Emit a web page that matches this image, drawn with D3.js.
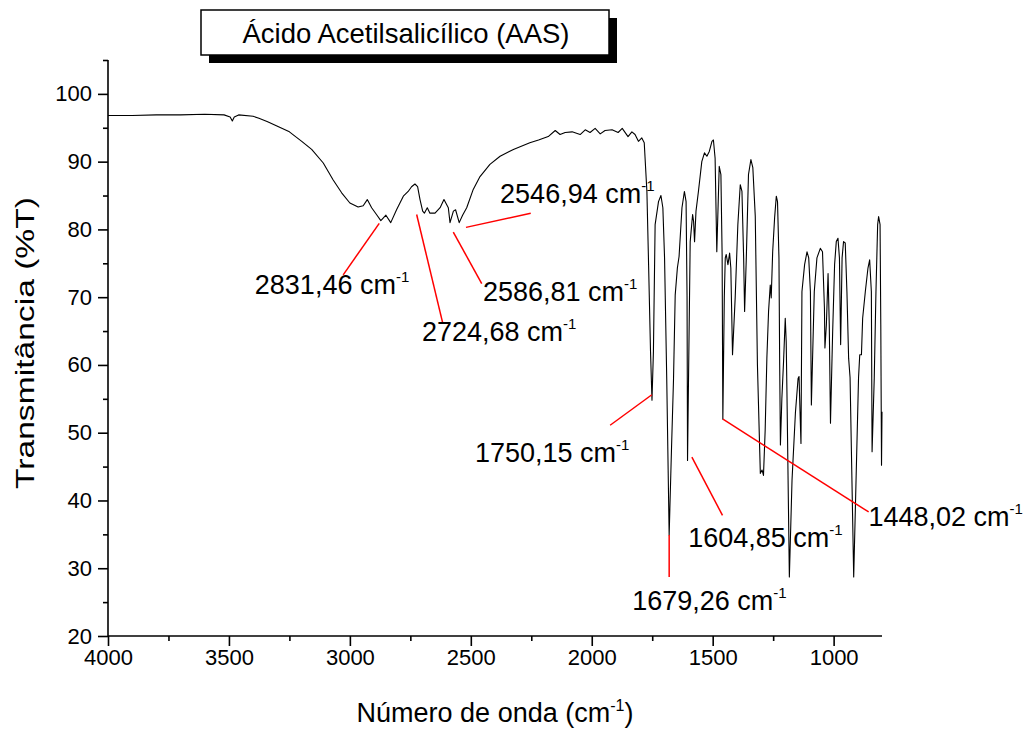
<!DOCTYPE html>
<html>
<head>
<meta charset="utf-8">
<script src="https://cdn.jsdelivr.net/npm/d3@7"></script>
<style>
body { margin: 0; background: #fff; }
text { font-family: Arial, "Liberation Sans", sans-serif; }
</style>
</head>
<body>
<svg id="chart" width="1027" height="729"></svg>
<script>
// IR spectrum of aspirin (cm-1 , %T)
var wavenumber = [4000, 3900, 3800, 3700, 3600, 3520, 3495, 3486, 3478, 3460, 3400, 3376, 3340, 3304, 3250, 3199,
  3158, 3110, 3069, 3034, 3000, 2966, 2945, 2928, 2910, 2890, 2872, 2851, 2831, 2807, 2779, 2759, 2745, 2731, 2720,
  2710, 2699, 2692, 2680, 2669, 2648, 2627, 2611, 2593, 2586, 2572, 2563, 2548, 2534, 2517, 2490, 2462, 2421, 2379,
  2324, 2256, 2220, 2180, 2151, 2131, 2110, 2081, 2048, 2027, 2007, 1986, 1965, 1945, 1916, 1891, 1874, 1850, 1834,
  1821, 1807, 1793, 1783, 1772, 1765, 1757, 1751, 1745, 1738, 1724, 1714, 1706, 1699, 1690, 1680, 1670, 1662, 1655,
  1646, 1639, 1627, 1617, 1610, 1606, 1604, 1593, 1583, 1579, 1575, 1569, 1559, 1545, 1534, 1524, 1514, 1503, 1497,
  1490, 1483, 1473, 1466, 1461, 1458, 1452, 1448, 1444, 1437, 1430, 1425, 1418, 1407, 1396, 1386, 1379, 1372, 1368,
  1361, 1352, 1342, 1334, 1324, 1315, 1303, 1296, 1290, 1283, 1276, 1269, 1262, 1258, 1252, 1244, 1237, 1232, 1226,
  1223, 1220, 1214, 1207, 1200, 1196, 1193, 1183, 1172, 1158, 1147, 1143, 1138, 1135, 1131, 1120, 1110, 1103, 1096,
  1092, 1080, 1069, 1055, 1046, 1038, 1036, 1030, 1023, 1018, 1013, 1004, 996, 989, 982, 976, 971, 965, 959, 952,
  945, 938, 932, 917, 897, 892, 885, 880, 869, 858, 851, 844, 841, 832, 825, 818, 814, 808, 805, 802, 800];
var transmittance = [96.8, 96.8, 96.9, 96.9, 97.0, 96.9, 96.6, 96.0, 96.6, 96.9, 96.7, 96.4, 95.9, 95.3, 94.4, 93.0,
  91.8, 89.8, 87.3, 85.4, 83.9, 83.3, 83.5, 84.4, 83.2, 82.2, 81.3, 82.1, 81.0, 82.9, 84.9, 85.6, 86.3, 86.7, 86.3,
  84.4, 82.7, 82.4, 83.2, 82.4, 82.4, 83.2, 84.4, 83.2, 81.0, 82.7, 82.9, 81.0, 82.1, 83.2, 85.9, 87.8, 89.6, 90.8,
  91.8, 92.8, 93.2, 93.7, 94.6, 94.0, 94.3, 94.4, 94.0, 94.7, 94.3, 94.9, 94.1, 94.6, 94.7, 94.3, 94.9, 93.7, 94.4,
  94.0, 93.0, 93.5, 92.8, 85.6, 74.8, 62.0, 54.8, 62.0, 80.7, 84.1, 85.0, 83.2, 75.8, 58.0, 34.9, 48.0, 57.8, 70.3,
  74.3, 76.0, 83.2, 85.6, 84.1, 70.0, 45.9, 78.2, 82.2, 81.2, 78.2, 82.7, 85.6, 90.0, 91.3, 90.8, 91.5, 93.0, 93.2,
  90.5, 76.7, 89.3, 88.1, 76.3, 52.0, 70.0, 75.8, 76.3, 74.8, 76.5, 74.3, 61.5, 69.9, 80.7, 86.6, 85.6, 75.8, 67.9,
  75.8, 88.1, 90.3, 89.1, 82.0, 60.0, 44.0, 44.5, 43.7, 50.4, 61.0, 67.9, 71.8, 69.9, 76.7, 81.7, 84.9, 84.1, 75.8,
  60.0, 48.2, 55.0, 60.5, 66.9, 63.4, 56.0, 28.7, 43.0, 52.9, 58.0, 58.3, 52.0, 48.4, 70.8, 74.8, 76.7, 75.8, 70.8,
  54.1, 70.8, 75.8, 77.2, 76.7, 68.4, 62.5, 65.9, 73.5, 65.9, 51.4, 64.9, 74.8, 78.2, 78.7, 75.8, 63.0, 75.8, 78.2, 78.0,
  70.8, 61.0, 58.1, 28.7, 58.1, 61.5, 61.5, 66.9, 70.8, 74.3, 75.5, 70.8, 47.2, 58.1, 70.8, 80.7, 81.9, 80.7, 66.0, 45.2, 53.1];

var xTicks = [4000, 3500, 3000, 2500, 2000, 1500, 1000];
var xMinor = [3750, 3250, 2750, 2250, 1750, 1250];
var yTicks = [20, 30, 40, 50, 60, 70, 80, 90, 100];
var yMinor = [25, 35, 45, 55, 65, 75, 85, 95, 105];

// peak annotations: label, red line (from, to) and label anchor, all in data units
var peakLabels = ["2831,46", "2724,68", "2586,81", "2546,94", "1750,15", "1679,26", "1604,85", "1448,02"];
var peakLineFrom = [[2878.6, 80.9], [2723.9, 82.2], [2572.4, 79.6], [2519.9, 80.3], [1924, 51.1], [1679.9, 34.9], [1586, 46.4], [1457.7, 52.0]];
var peakLineTo = [[3027.6, 73.3], [2616.3, 66.2], [2454.9, 72.0], [2252.2, 82.4], [1751.5, 55.6], [1679.9, 28.7], [1459.4, 37.8], [855.2, 38.3]];
var peakLabelAt = [[3393, 71.8], [2702, 65.0], [2450, 70.8], [2379, 85.3], [2483, 47.0], [1833, 25.3], [1601, 34.6], [856, 37.7]];

var svg = d3.select("#chart");
var margin = {left: 108, right: 145, top: 60, bottom: 93};
var width = 1027, height = 729;

var x = d3.scaleLinear().domain([4000, 800]).range([margin.left, width - margin.right]);
var y = d3.scaleLinear().domain([20, 105]).range([height - margin.bottom, margin.top]);

// title box with drop shadow
var title = svg.append("g");
title.append("rect").attr("x", 209).attr("y", 18).attr("width", 408).attr("height", 45).attr("fill", "#000");
title.append("rect").attr("x", 201).attr("y", 10).attr("width", 408).attr("height", 45)
  .attr("fill", "#fff").attr("stroke", "#000").attr("stroke-width", 1.5);
title.append("text").attr("x", 406).attr("y", 33).attr("dy", "0.35em").attr("text-anchor", "middle")
  .attr("font-size", 27.5).text("Ácido Acetilsalicílico (AAS)");

// axes
svg.append("g").attr("transform", "translate(0," + y(20) + ")")
  .call(d3.axisBottom(x).tickValues(xTicks).tickSize(10).tickPadding(3).tickFormat(d3.format("d")));
svg.append("g").attr("transform", "translate(0," + y(20) + ")")
  .call(d3.axisBottom(x).tickValues(xMinor).tickSize(5).tickFormat(""));
svg.append("g").attr("transform", "translate(" + x(4000) + ",0)")
  .call(d3.axisLeft(y).tickValues(yTicks).tickSize(10).tickPadding(6));
svg.append("g").attr("transform", "translate(" + x(4000) + ",0)")
  .call(d3.axisLeft(y).tickValues(yMinor).tickSize(5).tickFormat(""));

svg.selectAll(".tick line").attr("stroke-width", 1.6);
svg.selectAll(".tick text").attr("font-size", 22).attr("font-family", "Arial, 'Liberation Sans', sans-serif").attr("fill", "#000");
// plain axis lines (no end caps)
svg.selectAll(".domain").remove();
svg.append("line").attr("x1", x(4000)).attr("x2", x(800)).attr("y1", y(20)).attr("y2", y(20))
  .attr("stroke", "#000").attr("stroke-width", 1.6);
svg.append("line").attr("x1", x(4000)).attr("x2", x(4000)).attr("y1", y(20)).attr("y2", y(105))
  .attr("stroke", "#000").attr("stroke-width", 1.6);

// axis titles
var xt = svg.append("text").attr("x", 495).attr("y", 713).attr("dy", "0.35em").attr("text-anchor", "middle")
  .attr("font-size", 27);
xt.append("tspan").text("Número de onda (cm");
xt.append("tspan").attr("font-size", 16).attr("dy", -11).text("-1");
xt.append("tspan").attr("dy", 11).text(")");

svg.append("text").attr("transform", "translate(25,343) rotate(-90)").attr("dy", "0.35em")
  .attr("text-anchor", "middle").attr("font-size", 26)
  .attr("textLength", 292).attr("lengthAdjust", "spacingAndGlyphs").text("Transmitância (%T)");

// spectrum
var spectrum = wavenumber.map(function(w, i) { return [w, transmittance[i]]; });
var line = d3.line().x(function(d) { return x(d[0]); }).y(function(d) { return y(d[1]); });
svg.append("path").datum(spectrum).attr("d", line).attr("fill", "none")
  .attr("stroke", "#000").attr("stroke-width", 1.1).attr("stroke-linejoin", "round");

// peak annotations
peakLabels.forEach(function(lbl, i) {
  svg.append("line")
    .attr("x1", x(peakLineFrom[i][0])).attr("y1", y(peakLineFrom[i][1]))
    .attr("x2", x(peakLineTo[i][0])).attr("y2", y(peakLineTo[i][1]))
    .attr("stroke", "#ff0000").attr("stroke-width", 1.5);
  var t = svg.append("text").attr("x", x(peakLabelAt[i][0])).attr("y", y(peakLabelAt[i][1]))
    .attr("dy", "0.35em").attr("font-size", 27);
  t.append("tspan").text(lbl + " cm");
  t.append("tspan").attr("font-size", 15).attr("dy", -12).text("-1");
});
</script>
</body>
</html>
